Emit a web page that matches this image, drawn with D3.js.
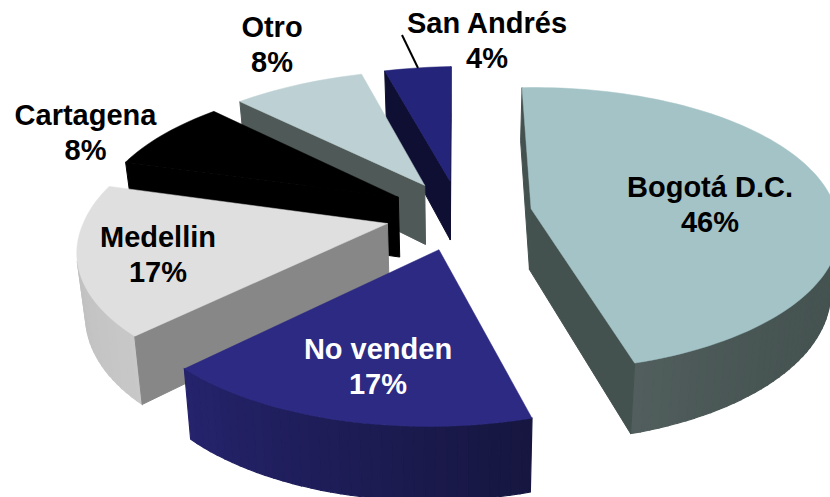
<!DOCTYPE html>
<html>
<head>
<meta charset="utf-8">
<script src="https://cdn.jsdelivr.net/npm/d3@7"></script>
<style>html,body{margin:0;padding:0;background:#fff}svg{display:block}</style>
</head>
<body>
<svg id="chart" width="830" height="497"></svg>
<script>
// Data
const categories = ["Bogotá D.C.", "No venden", "Medellin", "Cartagena", "Otro", "San Andrés"];
const values = [46, 17, 17, 8, 8, 4];

// Styles
const topColors  = ["#a3c3c6", "#2c2a82", "#dfdfdf", "#000000", "#bdd0d3", "#24247a"];
const sideColors = ["#44524f", "#1b1a55", "#878787", "#000000", "#4f5a58", "#0f0f33"];
const arcStart   = ["#445250", "#161640", "#c8c8c8", "#000000", "#4f5a58", "#0f0f33"];
const arcEnd     = ["#525f5e", "#25236c", "#bababa", "#000000", "#4f5a58", "#0f0f33"];
const arcCurve   = [8, 1, 1, 1, 1, 1];
const labelColors = ["#000", "#fff", "#000", "#000", "#000", "#000"];
const labelX = [710, 378, 158, 85.5, 272, 487];
const labelBaseline = [197, 359, 247, 125, 37, 33];
const paintOrder = [5, 4, 3, 2, 0, 1];

// Projection settings
const cx = 459, cy = 214.5, radiusX = 304, radiusY = 140, explodeX = 73, explodeY = 35;
const focal = 972, depth = 61, taper = 0.977, skewX = 0.03, tiltY = 0.018, flareX = 0.00018;

const svg = d3.select("#chart");
const arcs = d3.pie().sort(null).value(d => d)(values);
const line = d3.line();

const project = (x, y) => {
  const d = 1 / (1 - y / focal);
  const wide = x < 0 ? x * (1 + flareX * Math.max(-y, 0)) : x;
  return { sx: cx + (wide + skewX * Math.max(y, 0)) * d, sy: cy + (y - tiltY * x) * d, d };
};
const topPoint = (x, y) => { const p = project(x, y); return [p.sx, p.sy]; };
const bottomPoint = (x, y) => {
  const p = project(x, y);
  return [cx + (p.sx - cx) * taper, p.sy + depth * p.d];
};
const area = pts => d3.polygonArea(pts);   // sign tells which way a face points

paintOrder.forEach(i => {
  const a = arcs[i];
  const mid = (a.startAngle + a.endAngle) / 2;
  const ox = explodeX * Math.sin(mid), oy = -explodeY * Math.cos(mid);
  const rim = t => [ox + radiusX * Math.sin(t), oy - radiusY * Math.cos(t)];
  const steps = d3.range(0, Math.ceil((a.endAngle - a.startAngle) / 0.03) + 1);
  const angle = d3.scaleLinear().domain([0, steps[steps.length - 1]]).range([a.startAngle, a.endAngle]);
  const rimPts = steps.map(s => rim(angle(s)));
  const shade = d3.scalePow().exponent(arcCurve[i]).domain([a.startAngle, a.endAngle]).range([arcStart[i], arcEnd[i]]);
  const g = svg.append("g");

  const face = (p, q, color, sw) => {
    const quad = [topPoint(...p), topPoint(...q), bottomPoint(...q), bottomPoint(...p)];
    if (area(quad) >= 0) {   // y grows downward, so a positive area here is a front face
      g.append("path").attr("d", line(quad) + "Z").attr("fill", color)
        .attr("stroke", color).attr("stroke-width", sw);
    }
  };
  // outer curved wall
  d3.pairs(rimPts).forEach(([p, q], k) => face(p, q, shade(angle(k + 0.5)), 1.2));
  // the two cut walls
  face([ox, oy], rimPts[0], sideColors[i], 1);
  face(rimPts[rimPts.length - 1], [ox, oy], sideColors[i], 1);
  // top surface
  const outline = [[ox, oy], ...rimPts].map(p => topPoint(...p));
  g.append("path").attr("d", line(outline) + "Z").attr("fill", topColors[i])
    .attr("stroke", topColors[i]).attr("stroke-width", 0.5);
});

// San Andrés leader line
svg.append("line").attr("x1", 402).attr("y1", 35).attr("x2", 418).attr("y2", 68)
  .attr("stroke", "#000").attr("stroke-width", 2);

// Labels
categories.forEach((c, i) => {
  const t = svg.append("text")
    .attr("text-anchor", "middle")
    .attr("font-family", "'Liberation Sans', Arial, sans-serif")
    .attr("font-weight", "bold").attr("font-size", 29)
    .attr("fill", labelColors[i]);
  t.append("tspan").attr("x", labelX[i]).attr("y", labelBaseline[i]).text(c);
  t.append("tspan").attr("x", labelX[i]).attr("y", labelBaseline[i] + 35).text(values[i] + "%");
});
</script>
</body>
</html>
